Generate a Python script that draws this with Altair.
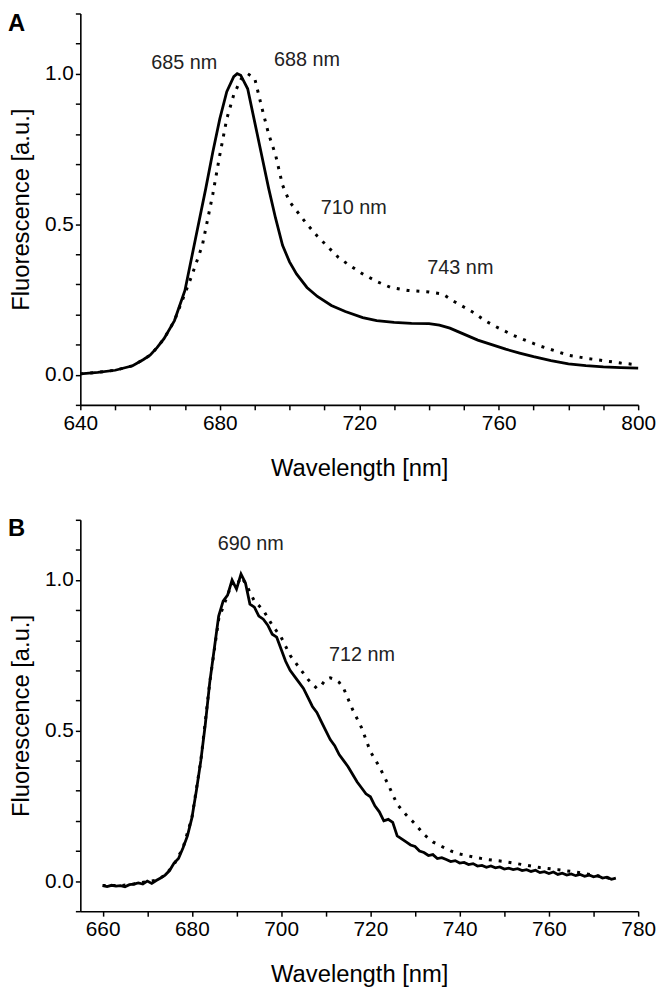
import altair as alt
import pandas as pd

FONT = "Liberation Sans"

# ---------------- Panel A ----------------
a_solid_wl = [640, 645, 650, 655, 658, 660, 662, 664, 667, 670, 673, 676, 678, 680, 682, 684, 685, 686,
              688, 690, 692, 694, 696, 698, 700, 702, 705, 708, 712, 716, 721, 725, 730, 735, 740, 743,
              746, 750, 754, 758, 762, 766, 770, 775, 780, 785, 790, 795, 800]
a_solid_f = [0.003, 0.008, 0.015, 0.03, 0.05, 0.065, 0.09, 0.12, 0.18, 0.28, 0.45, 0.62, 0.74, 0.85, 0.94,
             0.99, 1.0, 0.995, 0.95, 0.84, 0.73, 0.62, 0.52, 0.43, 0.375, 0.335, 0.29, 0.26, 0.23, 0.21,
             0.19, 0.18, 0.174, 0.171, 0.17, 0.165, 0.155, 0.135, 0.115, 0.1, 0.085, 0.072, 0.06, 0.047,
             0.036, 0.03, 0.026, 0.024, 0.022]

a_dot_wl = [640, 645, 650, 655, 658, 660, 662, 664, 667, 669, 672, 675, 678, 680, 682, 684, 686, 687, 688,
            690, 692, 694, 696, 698, 700, 702, 705, 708, 711, 714, 717, 721, 725, 729, 734, 740, 744, 747,
            750, 753, 756, 760, 764, 768, 772, 776, 780, 785, 790, 795, 800]
a_dot_f = [0.003, 0.008, 0.015, 0.03, 0.05, 0.065, 0.09, 0.12, 0.18, 0.24, 0.33, 0.43, 0.6, 0.73, 0.85,
           0.93, 0.98, 0.995, 1.0, 0.985, 0.89, 0.8, 0.73, 0.63, 0.575, 0.545, 0.5, 0.46, 0.425, 0.39,
           0.365, 0.335, 0.31, 0.29, 0.28, 0.275, 0.268, 0.245, 0.225, 0.205, 0.18, 0.155, 0.132, 0.113,
           0.095, 0.08, 0.065, 0.055, 0.047, 0.039, 0.033]

a_labels = ["685 nm", "688 nm", "710 nm", "743 nm"]
a_label_x = [669.8, 705.0, 718.4, 749.0]
a_label_y = [1.035, 1.045, 0.555, 0.355]

# ---------------- Panel B ----------------
b_solid_wl = list(range(660, 776))
b_solid_f = [-0.015, -0.018, -0.014, -0.017, -0.015, -0.019, -0.012, -0.010, -0.006, -0.010,
             0.000, -0.008, 0.002, 0.010, 0.020, 0.035, 0.060, 0.075, 0.110, 0.150,
             0.210, 0.300, 0.400, 0.520, 0.660, 0.770, 0.880, 0.930, 0.950, 1.000,
             0.970, 1.020, 0.990, 0.920, 0.910, 0.880, 0.870, 0.850, 0.820, 0.810,
             0.770, 0.730, 0.700, 0.680, 0.660, 0.640, 0.610, 0.580, 0.560, 0.530,
             0.500, 0.470, 0.450, 0.420, 0.400, 0.380, 0.355, 0.330, 0.310, 0.290,
             0.280, 0.250, 0.230, 0.200, 0.205, 0.195, 0.150, 0.140, 0.130, 0.120,
             0.115, 0.100, 0.095, 0.085, 0.088, 0.075, 0.078, 0.072, 0.065, 0.068,
             0.060, 0.062, 0.055, 0.058, 0.050, 0.052, 0.046, 0.050, 0.044, 0.047,
             0.040, 0.043, 0.038, 0.041, 0.035, 0.038, 0.032, 0.036, 0.028, 0.031,
             0.025, 0.030, 0.022, 0.026, 0.020, 0.024, 0.018, 0.022, 0.016, 0.020,
             0.014, 0.018, 0.010, 0.013, 0.006, 0.010]

b_dot_wl = [660, 662, 664, 666, 668, 670, 672, 674, 676, 678, 680, 682, 684, 686, 688, 689, 690, 691, 692,
            694, 696, 698, 700, 702, 704, 706, 708, 709, 710, 711, 712, 713, 714, 716, 718, 720, 722, 724,
            726, 728, 730, 732, 734, 736, 738, 740, 743, 746, 750, 754, 758, 762, 766, 770, 774, 775]
b_dot_f = [-0.015, -0.015, -0.015, -0.012, -0.007, -0.002, 0.003, 0.02, 0.055, 0.11, 0.21, 0.4, 0.66,
           0.87, 0.95, 0.99, 0.98, 1.01, 0.99, 0.93, 0.9, 0.85, 0.81, 0.75, 0.71, 0.67, 0.64, 0.65, 0.67,
           0.675, 0.67, 0.66, 0.64, 0.57, 0.51, 0.43, 0.38, 0.32, 0.255, 0.22, 0.19, 0.155, 0.13, 0.115,
           0.1, 0.09, 0.08, 0.072, 0.065, 0.055, 0.045, 0.038, 0.03, 0.02, 0.008, 0.008]

b_labels = ["690 nm", "712 nm"]
b_label_x = [693.2, 718.1]
b_label_y = [1.12, 0.75]

y_ticks = [round(-0.1 + 0.1 * i, 1) for i in range(14)]
a_x_ticks = list(range(640, 801, 10))
b_x_ticks = list(range(660, 781, 10))

W, H = 563, 395


def panel(s_wl, s_f, d_wl, d_f, labs, lx, ly, xdom, xticks, label_expr, letter, letter_y):
    xs = alt.Scale(domain=xdom, nice=False, zero=False)
    ys = alt.Scale(domain=[-0.1, 1.2], nice=False, zero=False)
    xaxis = alt.Axis(values=xticks, labelExpr=label_expr, title="Wavelength [nm]",
                     labelFlush=False, labelOverlap=False, labelPadding=3,
                     titleY=52, titleBaseline="top")
    yaxis = alt.Axis(values=y_ticks, format=".1f",
                     labelExpr="datum.label == '0.0' || datum.label == '0.5' || datum.label == '1.0' ? datum.label : ''",
                     title="Fluorescence [a.u.]", labelPadding=2, labelOverlap=False, labelFlush=False,
                     titleX=-47, titleY=H / 2, titleBaseline="bottom", titleAngle=270, titleAlign="center")
    sdf = pd.DataFrame({"wl": s_wl, "f": s_f})
    ddf = pd.DataFrame({"wl": d_wl, "f": d_f})
    tdf = pd.DataFrame({"wl": lx, "f": ly, "t": labs})
    dotted = alt.Chart(ddf).mark_line(color="black", strokeWidth=3, strokeDash=[3, 7]).encode(
        x=alt.X("wl:Q", scale=xs, axis=xaxis),
        y=alt.Y("f:Q", scale=ys, axis=yaxis),
    )
    solid = alt.Chart(sdf).mark_line(color="black", strokeWidth=2.8).encode(
        x=alt.X("wl:Q", scale=xs, axis=xaxis), y=alt.Y("f:Q", scale=ys, axis=yaxis)
    )
    text = alt.Chart(tdf).mark_text(font=FONT, fontSize=20, color="#222222").encode(
        x=alt.X("wl:Q", scale=xs, axis=xaxis), y=alt.Y("f:Q", scale=ys, axis=yaxis), text="t:N"
    )
    let = alt.Chart(pd.DataFrame({"t": [letter]})).mark_text(
        font=FONT, fontSize=24, fontWeight="bold", align="left", baseline="top", color="black"
    ).encode(x=alt.value(-73), y=alt.value(letter_y), text="t:N")
    return alt.layer(dotted, solid, text, let).properties(width=W, height=H)


pa = panel(a_solid_wl, a_solid_f, a_dot_wl, a_dot_f, a_labels, a_label_x, a_label_y,
           [640, 800], a_x_ticks, "datum.value % 40 == 0 ? datum.label : ''", "A", -1)
pb = panel(b_solid_wl, b_solid_f, b_dot_wl, b_dot_f, b_labels, b_label_x, b_label_y,
           [655, 780], b_x_ticks, "(datum.value - 660) % 20 == 0 ? datum.label : ''", "B", -3)

chart = alt.vconcat(pa, pb, spacing=29).properties(
    padding={"left": 0, "top": -10, "right": 0, "bottom": 0}
).configure(background="white").configure_view(stroke=None).configure_axis(
    grid=False, domainColor="black", domainWidth=1.6, tickColor="black", tickWidth=1.5, tickSize=5,
    labelOverlap=False, labelFont=FONT, labelFontSize=21, labelColor="black", titleFont=FONT,
    titleFontSize=24, titleFontWeight="normal", titleColor="black"
)

chart.save("out.html", embed_options={"renderer": "svg", "actions": False})
